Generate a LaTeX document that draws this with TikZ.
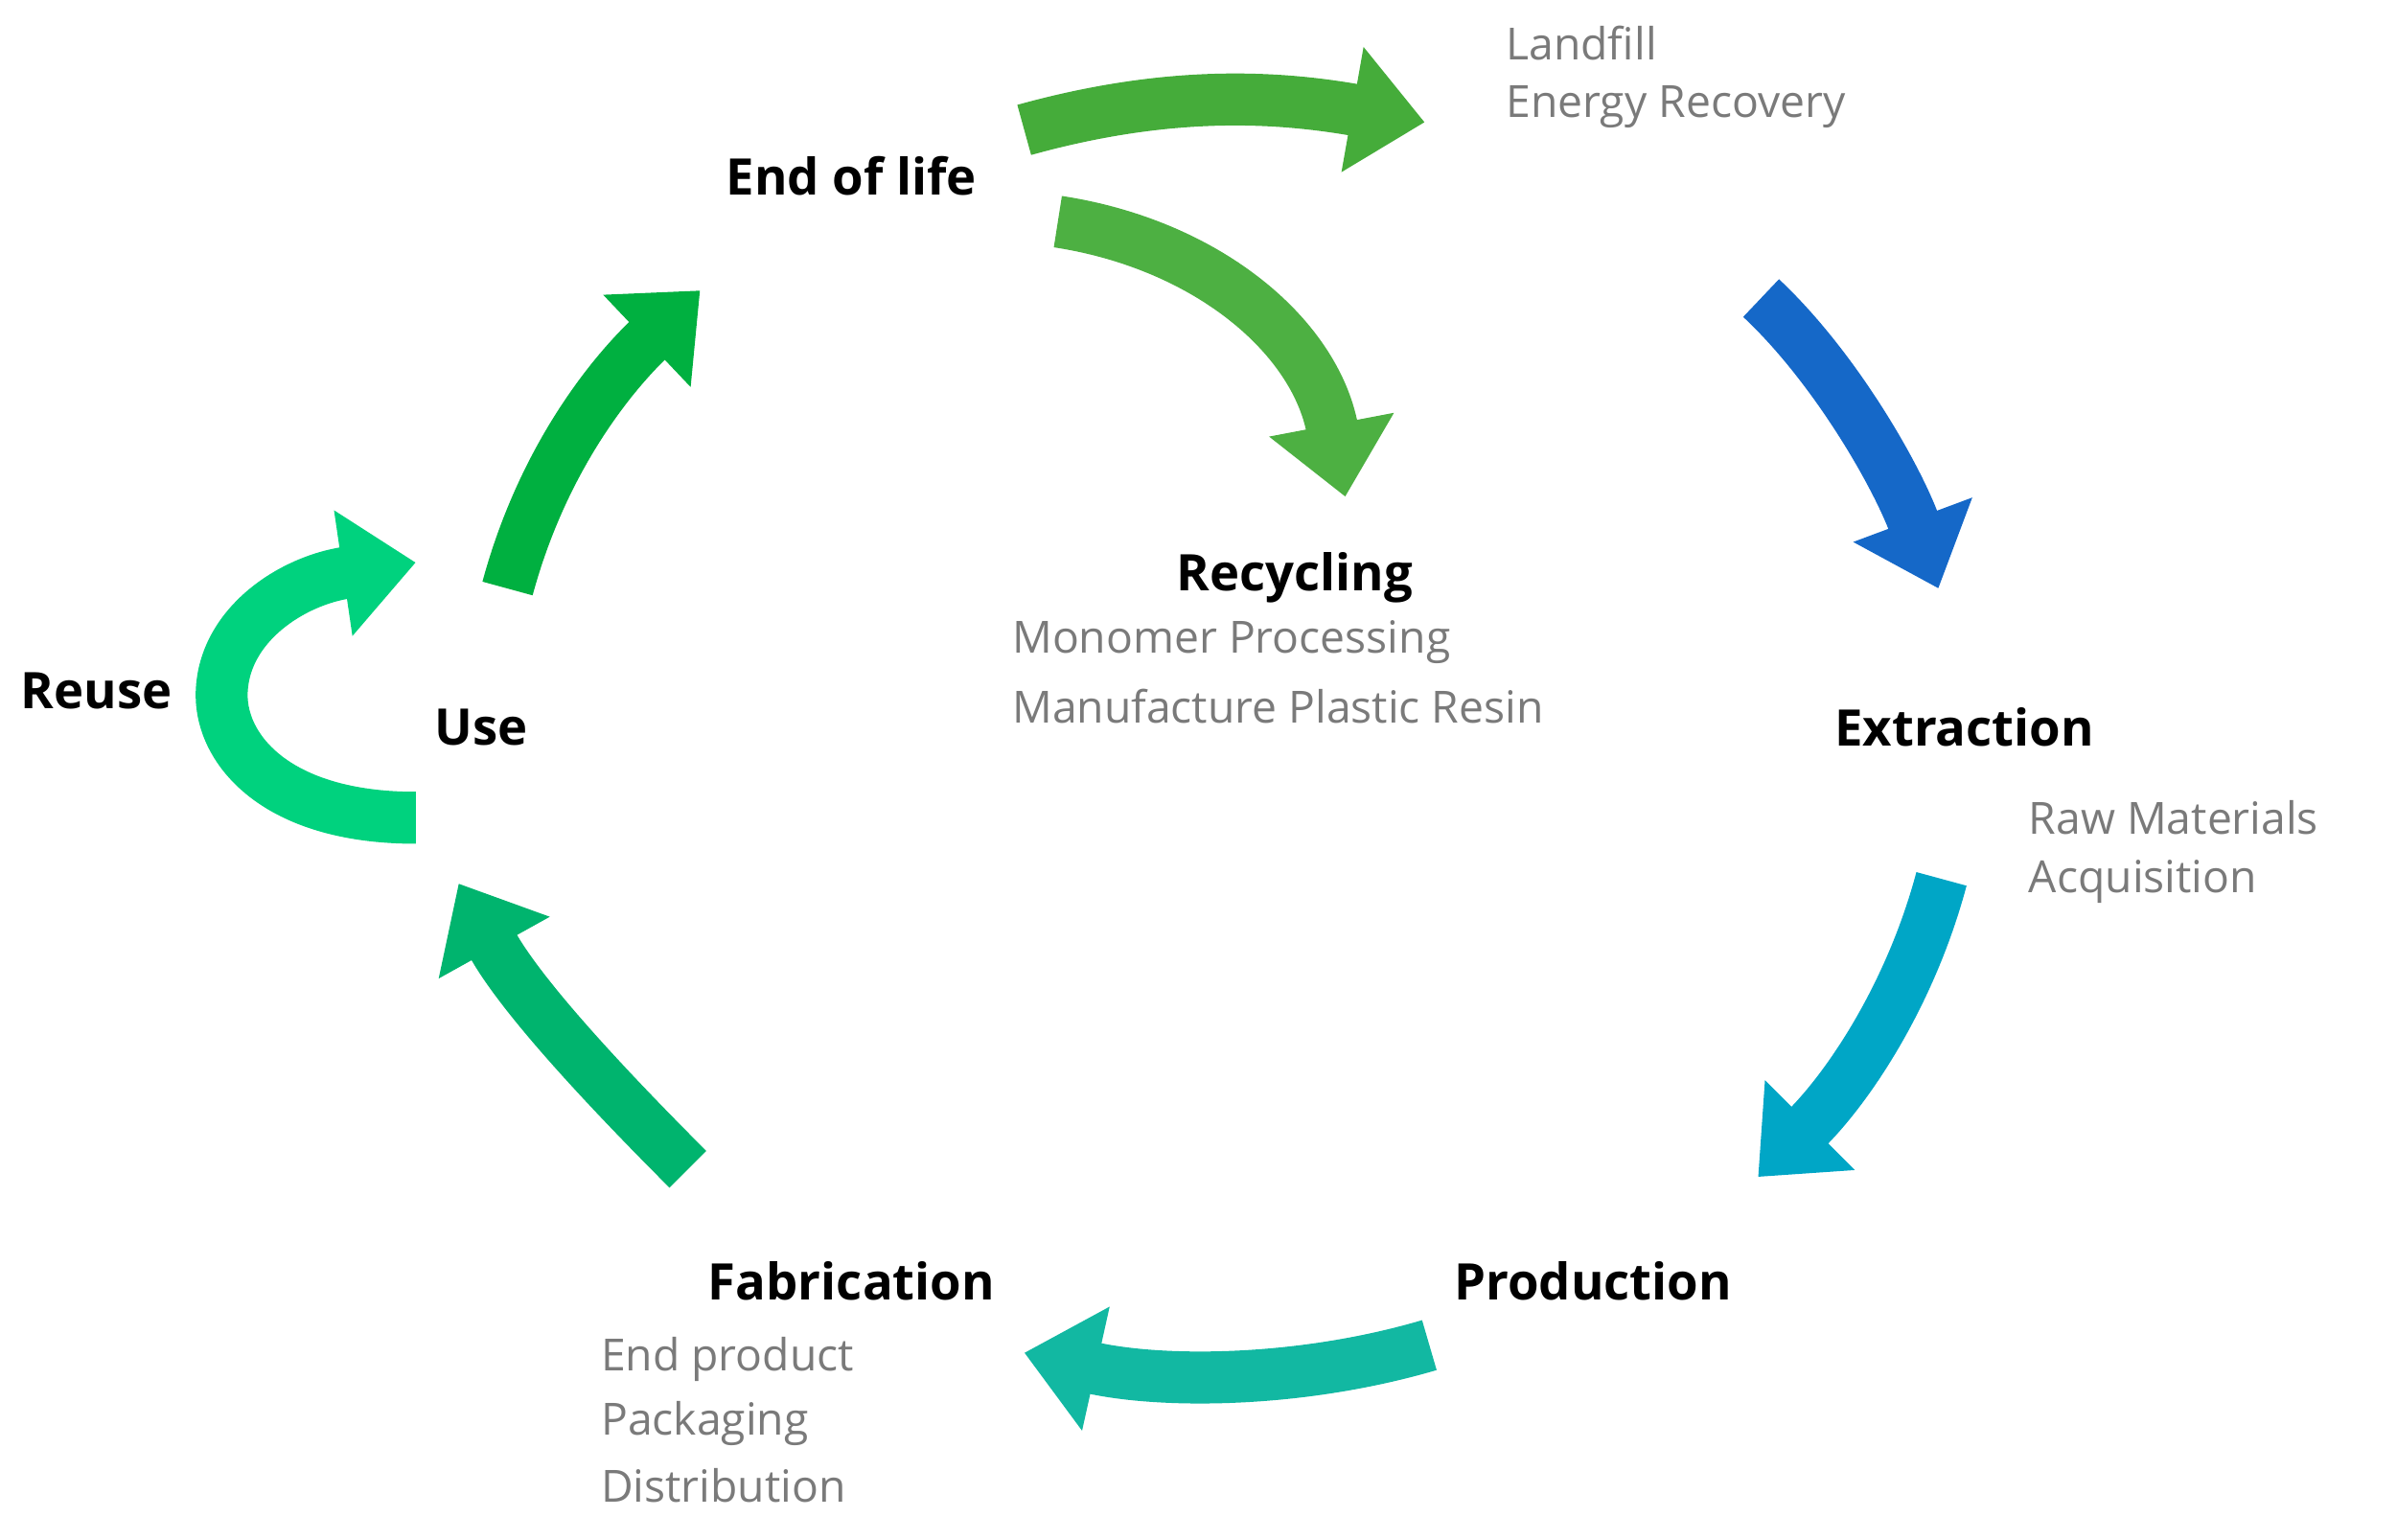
\documentclass[tikz,border=0pt]{standalone}
\usepackage{fontspec}
\setmainfont{Open Sans}
\usetikzlibrary{arrows.meta}
\definecolor{cA}{HTML}{45AC3A}
\definecolor{cB}{HTML}{4DB042}
\definecolor{cC}{HTML}{1568C8}
\definecolor{cD}{HTML}{00A6C6}
\definecolor{cE}{HTML}{12B8A2}
\definecolor{cF}{HTML}{00B46E}
\definecolor{cG}{HTML}{00B040}
\definecolor{cH}{HTML}{00D27E}
\definecolor{txt}{HTML}{7A7A7A}
\begin{document}
\begin{tikzpicture}[x=1pt,y=-1pt,
  big/.style={font=\fontsize{33}{38}\selectfont\bfseries,inner sep=0},
  small/.style={font=\fontsize{29}{42}\selectfont,text=txt,anchor=west,inner sep=0},
  flow/.style={line width=34pt,-{Triangle[width=80pt,length=48pt]}}]
\useasboundingbox (0,0) rectangle (1568,1007);
\node[big] (eol) at (557,115) {End of life};
\node[big] (rec) at (847,378) {Recycling};
\node[big] (ext) at (1285,476) {Extraction};
\node[big] (pro) at (1042,838) {Production};
\node[big] (fab) at (557,838) {Fabrication};
\node[big] (use) at (315,476) {Use};
\node[big] (reu) at (63,452) {Reuse};
\node[small] (l1) at (985,28) {Landfill};
\node[small] (l2) at (985,70) {Energy Recovery};
\node[small] (m1) at (662,420) {Monomer Processing};
\node[small] (m2) at (662,462) {Manufacture Plastic Resin};
\node[small] (r1) at (1327,535) {Raw Materials};
\node[small] (r2) at (1327,577) {Acquisition};
\node[small] (f1) at (393,889) {End product};
\node[small] (f2) at (393,931) {Packaging};
\node[small] (f3) at (393,972) {Distribution};
\coordinate (a1s) at (670,85); \coordinate (a1e) at (932,80);
\coordinate (a2s) at (692,145); \coordinate (a2e) at (880,325);
\coordinate (a3s) at (1152,195); \coordinate (a3e) at (1268,385);
\coordinate (a4s) at (1270,575); \coordinate (a4e) at (1150,770);
\coordinate (a5s) at (935,880); \coordinate (a5e) at (670,885);
\coordinate (a6s) at (450,765); \coordinate (a6e) at (300,578);
\coordinate (a7s) at (332,385); \coordinate (a7e) at (458,190);
\coordinate (a8s) at (272,535); \coordinate (a8e) at (272,368);
\draw[flow,cA] (a1s) .. controls (760,60) and (830,62) .. (a1e);
\draw[flow,cB] (a2s) .. controls (790,160) and (860,220) .. (a2e);
\draw[flow,cC] (a3s) .. controls (1200,240) and (1240,310) .. (a3e);
\draw[flow,cD] (a4s) .. controls (1250,650) and (1210,710) .. (a4e);
\draw[flow,cE] (a5s) .. controls (850,905) and (760,905) .. (a5e);
\draw[flow,cF] (a6s) .. controls (390,705) and (340,650) .. (a6e);
\draw[flow,cG] (a7s) .. controls (355,300) and (400,245) .. (a7e);
\draw[flow,cH] (a8s) .. controls (180,535) and (145,490) .. (145,455)
  .. controls (145,410) and (190,380) .. (a8e);
\end{tikzpicture}
\end{document}
